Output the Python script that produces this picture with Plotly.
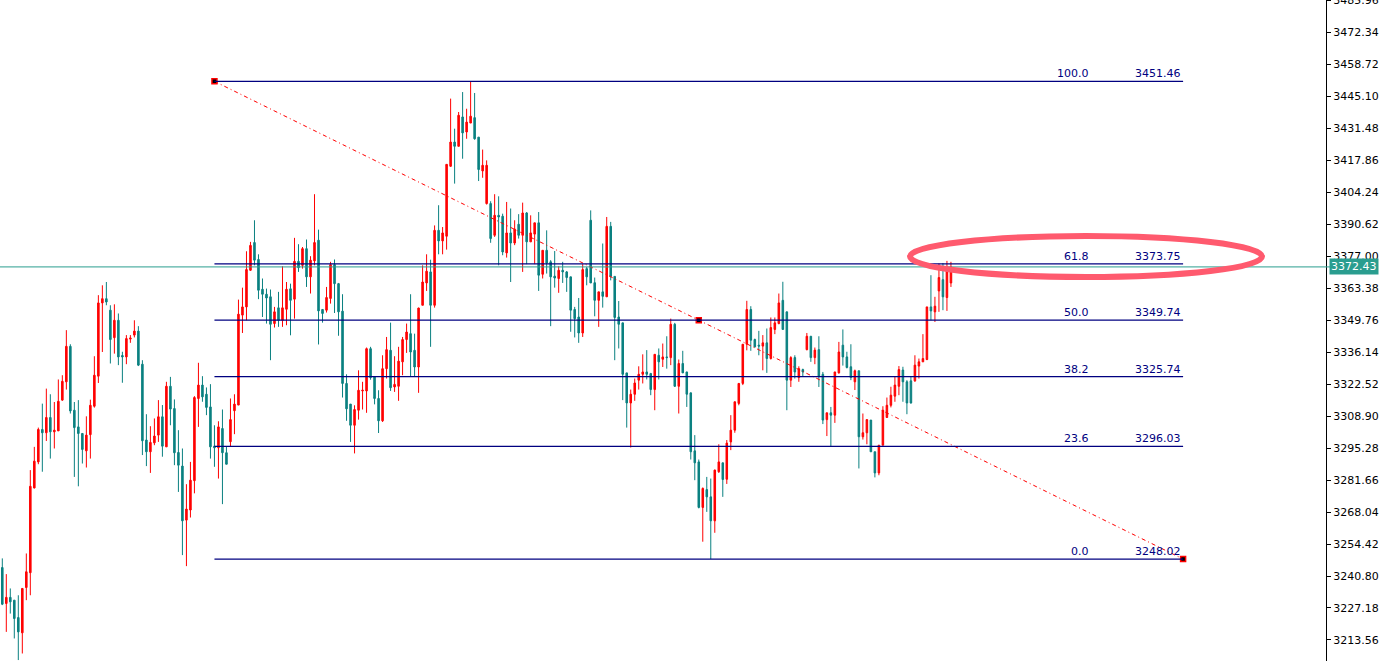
import plotly.graph_objects as go

# ---------------- data ----------------
opens = [
3244.4,3229.1,3231.7,3230.5,3223.1,3216.6,3235.9,3242.2,3278.3,3289.4,
3303.2,3301.8,3308.3,3302.2,3302.6,3315.7,3323.5,3338.6,3311.4,3304.3,
3301.5,3294.1,3301.0,3313.1,3325.9,3357.1,3358.9,3354.0,3342.3,3349.7,
3334.7,3334.1,3341.7,3343.4,3345.1,3331.0,3298.7,3293.7,3297.5,3300.8,
3308.6,3295.8,3321.6,3312.1,3293.4,3287.6,3264.6,3268.9,3281.4,3316.4,
3322.1,3318.2,3312.8,3296.1,3295.4,3303.6,3293.3,3298.0,3311.2,3313.6,
3351.9,3355.4,3371.0,3382.8,3375.6,3362.9,3360.8,3359.7,3348.3,3355.0,
3349.7,3354.4,3363.1,3358.7,3374.8,3373.1,3380.2,3368.2,3375.0,3383.8,
3354.3,3354.0,3359.0,3373.4,3365.3,3353.6,3322.8,3314.0,3305.0,3311.4,
3319.6,3319.6,3337.6,3325.6,3316.4,3306.9,3329.1,3336.9,3321.3,3321.6,
3332.0,3341.5,3344.0,3336.9,3329.8,3356.1,3365.6,3370.3,3356.1,3388.0,
3383.5,3385.5,3415.3,3425.6,3423.8,3436.3,3429.9,3433.7,3436.0,3427.7,
3413.3,3399.4,3399.4,3385.9,3394.4,3394.0,3378.4,3386.9,3382.6,3390.6,
3385.9,3395.4,3383.1,3386.4,3391.2,3369.3,3379.5,3374.6,3368.5,3367.5,
3371.0,3370.3,3368.2,3354.3,3351.1,3344.3,3371.7,3392.3,3365.7,3358.2,
3361.8,3359.7,3389.7,3368.4,3351.1,3348.6,3327.3,3314.5,3318.2,3324.2,
3326.7,3327.7,3327.0,3320.2,3334.8,3333.1,3334.1,3333.8,3348.0,3321.6,
3331.3,3327.7,3318.8,3294.1,3289.4,3270.0,3277.6,3274.5,3264.3,3285.2,
3289.0,3282.0,3297.9,3302.9,3314.3,3322.8,3339.5,3354.3,3341.5,3339.1,
3338.7,3340.1,3333.4,3345.8,3348.3,3358.2,3353.3,3324.2,3333.8,3325.3,
3328.7,3337.2,3342.9,3333.8,3337.2,3326.7,3307.4,3310.3,3309.3,3327.3,
3339.1,3334.1,3329.9,3323.5,3328.2,3300.1,3301.8,3307.2,3293.7,3284.7,
3296.5,3308.3,3313.5,3317.4,3321.6,3328.5,3323.5,3323.9,3323.9,3330.2,
3332.0,3333.0,3355.4,3353.3,3362.2,3367.0,3359.4,3365.6]
highs = [
3248.3,3241.6,3235.5,3230.5,3232.6,3235.5,3250.4,3285.9,3295.8,3304.0,
3314.2,3320.6,3318.2,3314.9,3324.5,3326.3,3345.5,3339.5,3314.9,3315.7,
3301.5,3308.8,3315.9,3334.4,3360.4,3364.6,3366.0,3356.1,3356.5,3352.6,
3336.3,3343.4,3343.4,3349.7,3347.2,3332.7,3309.7,3304.6,3307.9,3315.7,
3313.6,3323.5,3325.6,3316.0,3302.9,3295.1,3279.9,3289.4,3317.4,3331.6,
3325.9,3321.1,3322.5,3305.0,3306.7,3311.7,3295.8,3316.4,3318.2,3358.5,
3363.6,3379.1,3383.1,3392.3,3377.8,3367.5,3363.2,3362.8,3355.4,3361.8,
3372.7,3366.0,3365.3,3384.8,3382.1,3380.9,3384.1,3377.0,3403.4,3388.3,
3354.3,3363.9,3374.6,3375.6,3365.6,3360.8,3326.7,3314.0,3313.5,3328.4,
3323.5,3338.1,3338.4,3325.6,3319.9,3334.8,3342.6,3348.7,3334.4,3338.4,
3342.6,3348.3,3360.8,3344.0,3355.1,3373.1,3377.8,3375.5,3390.1,3398.7,
3389.4,3416.1,3444.1,3431.3,3438.4,3446.9,3439.8,3451.46,3446.5,3427.7,
3422.4,3417.8,3400.4,3403.4,3402.5,3395.1,3400.1,3397.3,3392.3,3394.9,
3399.8,3395.8,3394.4,3391.2,3395.8,3379.5,3388.0,3375.3,3379.2,3372.7,
3374.6,3370.7,3368.2,3355.4,3359.2,3373.6,3372.4,3396.5,3367.9,3361.8,
3382.4,3393.7,3391.6,3368.4,3357.9,3348.6,3327.3,3320.2,3324.9,3330.1,
3335.2,3337.0,3327.3,3335.2,3337.7,3339.8,3342.9,3350.4,3348.6,3333.0,
3336.7,3327.7,3318.8,3300.8,3290.4,3278.5,3283.0,3282.3,3286.1,3296.9,
3289.0,3298.7,3309.3,3315.0,3323.0,3339.5,3358.0,3355.7,3341.9,3345.2,
3343.4,3346.2,3350.9,3350.9,3361.1,3366.1,3353.3,3334.4,3334.8,3330.1,
3329.1,3344.3,3342.9,3338.1,3342.9,3327.7,3310.3,3312.8,3327.7,3340.5,
3345.8,3336.3,3339.5,3328.7,3328.2,3310.0,3307.4,3307.2,3293.7,3296.5,
3313.1,3316.8,3321.4,3325.9,3330.2,3329.9,3324.2,3325.6,3334.8,3333.4,
3343.8,3355.4,3368.9,3359.7,3373.9,3374.1,3375.0,3374.6]
lows = [
3228.4,3217.0,3224.8,3214.2,3205.0,3207.8,3230.5,3232.6,3278.1,3288.4,
3285.2,3298.3,3290.8,3295.1,3302.6,3315.4,3320.2,3310.0,3283.0,3279.0,
3288.7,3287.0,3290.8,3312.5,3323.0,3336.2,3356.1,3331.3,3335.5,3330.6,
3323.1,3331.0,3340.1,3342.4,3330.2,3292.3,3287.6,3284.7,3296.5,3297.9,
3291.6,3295.8,3305.0,3288.0,3276.6,3249.7,3245.0,3265.7,3276.0,3304.3,
3315.0,3309.3,3290.8,3287.3,3282.3,3271.4,3288.4,3296.1,3301.2,3313.6,
3344.3,3349.7,3370.7,3373.1,3358.7,3351.1,3348.3,3332.7,3346.6,3346.9,
3346.9,3347.6,3343.3,3350.4,3370.3,3371.7,3363.9,3361.1,3373.1,3339.4,
3348.7,3353.0,3356.8,3352.8,3343.1,3316.8,3306.9,3297.9,3293.0,3307.4,
3311.7,3310.3,3324.4,3313.9,3301.7,3306.4,3324.9,3319.6,3319.2,3315.4,
3326.3,3335.8,3325.9,3325.9,3318.8,3356.1,3362.2,3338.4,3355.1,3377.8,
3377.8,3379.8,3415.0,3407.9,3423.8,3418.5,3427.0,3433.7,3426.6,3409.0,
3410.4,3399.0,3382.7,3385.2,3373.1,3377.4,3376.4,3366.0,3381.7,3384.5,
3370.3,3373.6,3383.1,3373.6,3362.2,3367.5,3369.6,3347.2,3363.6,3361.4,
3365.6,3361.8,3344.8,3342.4,3340.1,3342.6,3364.6,3365.6,3351.4,3346.9,
3355.1,3359.7,3366.7,3332.7,3337.7,3315.7,3304.0,3295.5,3315.4,3320.2,
3322.8,3324.5,3317.8,3311.4,3324.5,3329.8,3329.1,3330.6,3321.3,3310.0,
3327.3,3312.8,3290.4,3281.6,3269.6,3255.4,3268.1,3248.02,3259.2,3284.7,
3274.5,3280.0,3294.4,3301.8,3313.5,3322.1,3336.9,3336.7,3338.1,3334.8,
3328.4,3327.3,3333.0,3343.8,3348.0,3345.8,3311.4,3321.3,3324.9,3323.5,
3325.9,3336.9,3332.0,3331.0,3321.3,3305.5,3300.4,3296.1,3306.0,3327.0,
3330.4,3329.2,3324.2,3320.0,3286.6,3298.9,3296.9,3293.7,3282.8,3283.7,
3296.5,3308.3,3312.6,3315.0,3317.8,3315.0,3309.7,3314.2,3323.5,3324.9,
3332.0,3332.7,3349.7,3349.0,3353.3,3354.0,3353.7,3363.9]
closes = [
3228.8,3231.7,3229.8,3222.7,3217.0,3235.5,3242.6,3279.0,3289.7,3303.2,
3301.8,3308.3,3302.2,3302.9,3315.2,3323.7,3338.6,3311.1,3304.0,3301.5,
3294.7,3300.8,3313.5,3326.3,3357.1,3358.9,3357.5,3341.5,3349.7,3334.1,
3334.1,3341.9,3342.1,3345.1,3330.6,3298.4,3293.7,3297.7,3300.4,3308.6,
3296.1,3321.6,3311.9,3293.3,3288.0,3264.3,3269.3,3281.6,3316.8,3322.1,
3317.1,3312.6,3295.8,3295.4,3304.3,3293.3,3288.4,3307.4,3314.0,3352.3,
3355.4,3371.3,3381.6,3375.3,3362.5,3360.8,3359.2,3348.0,3353.3,3349.7,
3355.0,3362.9,3358.2,3374.8,3372.1,3380.2,3368.2,3375.3,3382.8,3353.7,
3352.6,3359.4,3373.4,3365.3,3353.3,3322.8,3312.0,3305.0,3311.7,3319.9,
3319.9,3337.6,3325.3,3316.4,3306.9,3329.1,3337.2,3321.0,3322.4,3332.3,
3341.5,3344.7,3336.2,3329.8,3354.9,3366.0,3370.6,3356.1,3388.0,3383.5,
3386.9,3416.1,3425.6,3423.8,3437.0,3429.5,3434.1,3436.6,3427.0,3413.9,
3415.7,3415.7,3384.5,3394.4,3393.7,3378.8,3386.9,3382.6,3388.5,3385.9,
3395.4,3383.1,3386.9,3391.2,3368.9,3379.5,3374.1,3368.2,3367.7,3371.0,
3370.3,3367.9,3354.0,3350.4,3344.3,3371.3,3368.2,3365.6,3358.2,3361.8,
3359.9,3389.7,3368.4,3350.9,3348.0,3326.7,3314.5,3318.2,3323.0,3326.7,
3327.7,3326.7,3320.2,3335.2,3332.0,3334.1,3333.8,3348.0,3321.6,3331.3,
3327.3,3318.2,3293.7,3289.0,3270.0,3278.1,3274.5,3264.3,3285.9,3289.4,
3281.9,3297.4,3302.9,3315.0,3322.8,3339.5,3354.3,3341.2,3338.4,3338.7,
3340.1,3333.4,3346.6,3348.6,3357.1,3345.8,3324.2,3333.8,3327.7,3329.1,
3327.7,3342.9,3333.8,3337.0,3325.9,3307.2,3310.3,3309.3,3327.7,3336.2,
3334.1,3329.6,3325.3,3328.2,3300.1,3301.8,3307.4,3293.7,3284.7,3296.5,
3311.4,3313.5,3317.8,3322.1,3328.7,3323.5,3314.5,3314.5,3330.6,3332.0,
3333.4,3355.4,3353.7,3355.7,3367.9,3359.7,3371.7,3372.43]

fib_ratios = ["0.0", "23.6", "38.2", "50.0", "61.8", "100.0"]
fib_prices = [3248.02, 3296.03, 3325.74, 3349.74, 3373.75, 3451.46]
fib_start_bar = 53
fib_end_bar = 295
fib_mid_bar = 174
last_price = 3372.43

y_tick_labels = ["3485.96", "3472.34", "3458.72", "3445.10", "3431.48", "3417.86",
                 "3404.24", "3390.62", "3377.00", "3363.38", "3349.76", "3336.14",
                 "3322.52", "3308.90", "3295.28", "3281.66", "3268.04", "3254.42",
                 "3240.80", "3227.18", "3213.56"]

# ---------------- styles ----------------
BULL = "#FF0000"
BEAR = "#0A8080"
FIB = "#000080"
PRICE_LINE = "#2A9D8F"
FONT = "DejaVu Sans"

bars = list(range(len(opens)))

fig = go.Figure()
fig.add_trace(go.Candlestick(
    x=bars, open=opens, high=highs, low=lows, close=closes,
    increasing=dict(line=dict(color=BULL, width=1), fillcolor=BULL),
    decreasing=dict(line=dict(color=BEAR, width=1), fillcolor=BEAR),
    whiskerwidth=0, showlegend=False, hoverinfo="skip"))

# Fibonacci level lines
for ratio, price in zip(fib_ratios, fib_prices):
    fig.add_shape(type="line", xref="x", yref="y", x0=fib_start_bar, x1=fib_end_bar,
                  y0=price, y1=price, line=dict(color=FIB, width=1.2))
    fig.add_annotation(x=272, y=price, text=ratio, showarrow=False,
                       xanchor="right", yanchor="bottom", yshift=-1,
                       font=dict(family=FONT, size=11, color=FIB))
    fig.add_annotation(x=fib_end_bar, y=price, text=f"{price:.2f}", showarrow=False,
                       xanchor="right", yanchor="bottom", yshift=-1,
                       font=dict(family=FONT, size=11, color=FIB))

# Trend (anchor) line of the Fibonacci tool
top, bottom = fib_prices[-1], fib_prices[0]
fig.add_trace(go.Scatter(x=[fib_start_bar, fib_end_bar], y=[top, bottom],
                         mode="lines", line=dict(color="#FF0000", width=1, dash="4px,3px,1px,3px"),
                         showlegend=False, hoverinfo="skip"))
fig.add_trace(go.Scatter(x=[fib_start_bar, fib_mid_bar, fib_end_bar],
                         y=[top, (top + bottom) / 2, bottom],
                         mode="markers",
                         marker=dict(symbol="square", size=5, color="black",
                                     line=dict(color="#FF0000", width=1.5)),
                         showlegend=False, hoverinfo="skip"))

# current price line + label
fig.add_shape(type="line", xref="paper", x0=0, x1=1.005, yref="y", y0=last_price, y1=last_price,
              line=dict(color=PRICE_LINE, width=1))
fig.add_annotation(xref="paper", x=1.0, xanchor="left", xshift=3, y=last_price,
                   text=f"{last_price:.2f}", showarrow=False, bgcolor=PRICE_LINE,
                   font=dict(family=FONT, size=11, color="white"), borderpad=1)

# highlight ellipse
fig.add_shape(type="circle", xref="paper", yref="paper",
              x0=910 / 1326, x1=1262 / 1326, y0=1 - 277 / 661, y1=1 - 236 / 661,
              line=dict(color="#FF5A6E", width=6))

fig.update_layout(
    width=1395, height=661,
    margin=dict(l=0, r=69, t=0, b=0, autoexpand=False),
    paper_bgcolor="white", plot_bgcolor="white",
    boxgap=0.45,
    xaxis=dict(visible=False, range=[-0.575, 330.7], rangeslider=dict(visible=False)),
    yaxis=dict(side="right", range=[3204.6, 3486.1], automargin=False,
               ticklabeloverflow="allow",
               tickvals=[float(t) for t in y_tick_labels], ticktext=y_tick_labels,
               showgrid=False, zeroline=False, showline=True, linecolor="black", linewidth=1,
               ticks="outside", ticklen=4, tickcolor="black",
               tickfont=dict(family=FONT, size=11, color="black")),
    font=dict(family=FONT),
)

fig.write_html("out.html", config={"displayModeBar": False},
               post_script="document.body.style.margin='0';")
